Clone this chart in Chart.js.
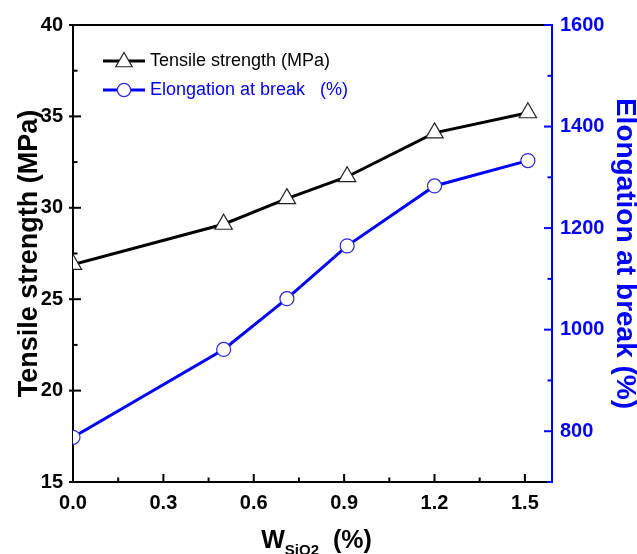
<!DOCTYPE html>
<html>
<head>
<meta charset="utf-8">
<script src="https://cdn.jsdelivr.net/npm/chart.js@4"></script>
<style>
  html, body { margin: 0; padding: 0; background: #fff; }
  canvas { display: block; }
</style>
</head>
<body>
<canvas id="chart" width="637" height="554"></canvas>
<script>
// values
const silicaContent = [0, 0.5, 0.71, 0.91, 1.2, 1.51];
const tensileStrength = [26.9, 29.1, 30.5, 31.7, 34.1, 35.2];
const elongationAtBreak = [788, 961, 1061, 1165, 1283, 1333];

const xTicks = [0, 0.3, 0.6, 0.9, 1.2, 1.5];
const leftTicks = [15, 20, 25, 30, 35, 40];
const rightTicks = [800, 1000, 1200, 1400, 1600];

const BLUE = '#0000ff';
const FONT = "'Liberation Sans', Arial, sans-serif";

const toPoints = ys => ys.map((y, i) => ({ x: silicaContent[i], y: y }));
const fixedTicks = list => scale => { scale.ticks = list.map(v => ({ value: v })); };

// inward major/minor tick marks + top frame line
const frame = {
  id: 'frame',
  beforeDatasetsDraw(chart) {
    const { ctx, chartArea: a, scales } = chart;
    ctx.save();
    ctx.lineWidth = 2;

    ctx.strokeStyle = '#000';
    ctx.beginPath();
    ctx.moveTo(a.left - 1, a.top);
    ctx.lineTo(a.right, a.top);
    ctx.stroke();

    const marks = (s, draw) => {
      const vals = s.ticks.map(t => t.value);
      const half = (vals[1] - vals[0]) / 2;
      vals.forEach(v => draw(s.getPixelForValue(v), 8, true));
      for (let v = vals[0] - half; v <= s.max + 1e-9; v += 2 * half) {
        if (v >= s.min - 1e-9) draw(s.getPixelForValue(v), 4.5, false);
      }
    };

    ctx.strokeStyle = '#000';
    marks(scales.x, (px, len) => {
      ctx.beginPath(); ctx.moveTo(px, a.bottom); ctx.lineTo(px, a.bottom - len); ctx.stroke();
    });
    marks(scales.y, (py, len, major) => {
      ctx.beginPath(); ctx.moveTo(a.left - (major ? 4 : 0), py); ctx.lineTo(a.left + len, py); ctx.stroke();
    });
    ctx.strokeStyle = BLUE;
    marks(scales.y2, (py, len) => {
      ctx.beginPath(); ctx.moveTo(a.right, py); ctx.lineTo(a.right - len, py); ctx.stroke();
    });
    ctx.restore();
  }
};

// legend drawn inside the plot, line - marker - line style
const insideLegend = {
  id: 'insideLegend',
  afterDatasetsDraw(chart) {
    const { ctx, chartArea: a } = chart;
    ctx.save();
    chart.data.datasets.forEach((ds, i) => {
      const cy = a.top + 36 + i * 29;
      const x0 = a.left + 30;
      ctx.strokeStyle = ds.borderColor;
      ctx.lineWidth = 3;
      ctx.beginPath();
      ctx.moveTo(x0, cy);
      ctx.lineTo(x0 + 42, cy);
      ctx.stroke();
      ctx.fillStyle = '#fff';
      ctx.strokeStyle = ds.pointBorderColor;
      ctx.lineWidth = ds.pointBorderWidth;
      Chart.helpers.drawPoint(ctx, {
        pointStyle: ds.pointStyle, rotation: 0,
        radius: ds.pointRadius * 0.95, borderWidth: ds.pointBorderWidth
      }, x0 + 21, cy + (ds.pointStyle === 'triangle' ? 1 : 0));
      ctx.fillStyle = ds.borderColor;
      ctx.font = '18px ' + FONT;
      ctx.textBaseline = 'middle';
      ctx.fillText(ds.label, x0 + 47, cy);
    });
    ctx.restore();
  }
};

// x axis title with subscript
const xTitle = {
  id: 'xTitle',
  afterDraw(chart) {
    const { ctx, chartArea: a } = chart;
    const big = 'bold 25px ' + FONT, small = 'bold 15px ' + FONT;
    ctx.save();
    ctx.fillStyle = '#000';
    ctx.textBaseline = 'alphabetic';
    ctx.font = big; const wW = ctx.measureText('W').width;
    const wP = ctx.measureText('  (%)').width;
    ctx.font = small; const wS = ctx.measureText('SiO2').width;
    let x = (a.left + a.right) / 2 - (wW + wS + wP) / 2 + 4;
    const base = 548;
    ctx.font = big; ctx.fillText('W', x, base); x += wW;
    ctx.font = small; ctx.fillText('SiO2', x, base + 7); x += wS;
    ctx.font = big; ctx.fillText('  (%)', x, base);
    ctx.restore();
  }
};

new Chart(document.getElementById('chart'), {
  type: 'line',
  data: {
    datasets: [{
      label: 'Tensile strength (MPa)',
      data: toPoints(tensileStrength),
      yAxisID: 'y',
      borderColor: '#000',
      borderWidth: 3,
      pointStyle: 'triangle',
      pointRadius: 10,
      pointBackgroundColor: '#fff',
      pointBorderColor: '#222',
      pointBorderWidth: 1.2,
      tension: 0
    }, {
      label: 'Elongation at break   (%)',
      data: toPoints(elongationAtBreak),
      yAxisID: 'y2',
      borderColor: BLUE,
      borderWidth: 3,
      pointStyle: 'circle',
      pointRadius: 7,
      pointBackgroundColor: '#fff',
      pointBorderColor: '#2a2adf',
      pointBorderWidth: 1.2,
      tension: 0
    }]
  },
  options: {
    responsive: false,
    animation: false,
    devicePixelRatio: 1,
    layout: { padding: { top: 25 } },
    plugins: { legend: { display: false }, tooltip: { enabled: false } },
    scales: {
      x: {
        type: 'linear',
        min: 0,
        max: 1.59,
        afterBuildTicks: fixedTicks(xTicks),
        afterFit: s => { s.height = 72; },
        grid: { display: false, drawTicks: false },
        border: { color: '#000', width: 2 },
        ticks: {
          padding: 9,
          color: '#000',
          font: { family: FONT, size: 20, weight: 'bold' },
          callback: v => v.toFixed(1)
        }
      },
      y: {
        position: 'left',
        min: 15,
        max: 40,
        afterBuildTicks: fixedTicks(leftTicks),
        afterFit: s => { s.width = 73; },
        grid: { display: false, drawTicks: false },
        border: { color: '#000', width: 2 },
        ticks: {
          padding: 10,
          color: '#000',
          font: { family: FONT, size: 20, weight: 'bold' },
          callback: v => String(v)
        },
        title: {
          display: true,
          text: 'Tensile strength (MPa)',
          color: '#000',
          font: { family: FONT, size: 27, weight: 'bold', lineHeight: 1 },
          padding: { top: 16, bottom: 0 }
        }
      },
      y2: {
        position: 'right',
        min: 700,
        max: 1600,
        afterBuildTicks: fixedTicks(rightTicks),
        afterFit: s => { s.width = 85; },
        grid: { display: false, drawTicks: false },
        border: { color: BLUE, width: 2 },
        ticks: {
          padding: 8,
          color: BLUE,
          font: { family: FONT, size: 20, weight: 'bold' },
          callback: v => String(v)
        },
        title: {
          display: true,
          text: 'Elongation at break (%)',
          color: BLUE,
          font: { family: FONT, size: 28, weight: 'bold', lineHeight: 1 },
          padding: { top: -2, bottom: 0 }
        }
      }
    }
  },
  plugins: [frame, insideLegend, xTitle]
});
</script>
</body>
</html>
